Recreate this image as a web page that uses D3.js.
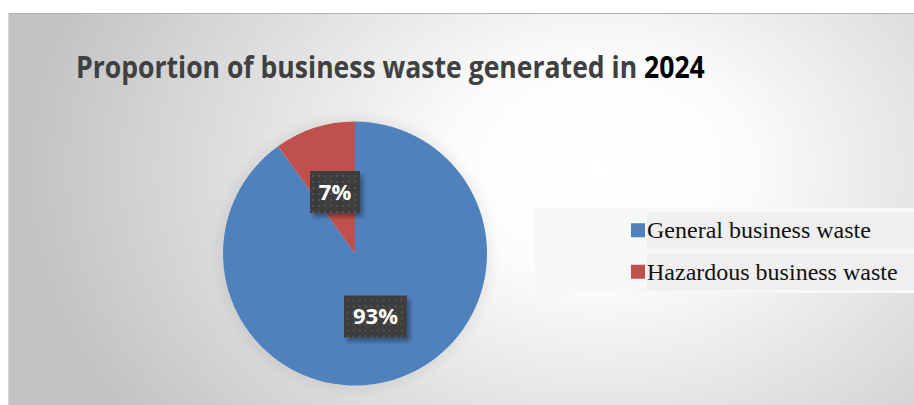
<!DOCTYPE html>
<html>
<head>
<meta charset="utf-8">
<script src="https://cdn.jsdelivr.net/npm/d3@7"></script>
<style>
  body { margin: 0; background: #fff; }
  svg { display: block; }
</style>
</head>
<body>
<div id="wrapper"></div>
<script>
// data
const categories = ['General business waste', 'Hazardous business waste']
const values = [90.1, 9.9]           // slice sizes as drawn
const labelTexts = ['93%', '7%']     // labels as printed
const colors = ['#4f81bd', '#c0504d']
const titleMain = 'Proportion of business waste generated in '
const titleYear = '2024'

function drawPie() {
    let dimensions = {
        width: 914,
        height: 405,
        box: { x: 8, y: 13 }
    }

    const svg = d3.select('#wrapper').append('svg')
        .attr('width', dimensions.width)
        .attr('height', dimensions.height)

    const defs = svg.append('defs')
    const grad = defs.append('radialGradient')
        .attr('id', 'bg')
        .attr('gradientUnits', 'userSpaceOnUse')
        .attr('cx', 600).attr('cy', 170).attr('r', 580)
        .attr('gradientTransform', 'translate(600,170) scale(1,0.75) translate(-600,-170)')
    grad.append('stop').attr('offset', '0%').attr('stop-color', '#ffffff')
    grad.append('stop').attr('offset', '25%').attr('stop-color', '#fcfcfc')
    grad.append('stop').attr('offset', '100%').attr('stop-color', '#c2c2c2')

    const glow = defs.append('filter').attr('id', 'glow')
        .attr('x', '-20%').attr('y', '-20%').attr('width', '140%').attr('height', '140%')
    glow.append('feGaussianBlur').attr('in', 'SourceAlpha').attr('stdDeviation', 9)
    glow.append('feComponentTransfer').append('feFuncA').attr('type', 'linear').attr('slope', 0.12)
    const gm = glow.append('feMerge')
    gm.append('feMergeNode')
    gm.append('feMergeNode').attr('in', 'SourceGraphic')

    const pat = defs.append('pattern').attr('id', 'dots')
        .attr('width', 6).attr('height', 6).attr('patternUnits', 'userSpaceOnUse')
    pat.append('rect').attr('width', 6).attr('height', 6).attr('fill', '#3c3c3c')
    pat.append('rect').attr('x', 1).attr('y', 1).attr('width', 2).attr('height', 2).attr('fill', '#535353')

    const shadow = defs.append('filter').attr('id', 'lblshadow')
        .attr('x', '-30%').attr('y', '-30%').attr('width', '160%').attr('height', '160%')
    shadow.append('feGaussianBlur').attr('in', 'SourceAlpha').attr('stdDeviation', 2)
    shadow.append('feOffset').attr('dx', 3).attr('dy', 4)
    shadow.append('feComponentTransfer').append('feFuncA').attr('type', 'linear').attr('slope', 0.35)
    const sm = shadow.append('feMerge')
    sm.append('feMergeNode')
    sm.append('feMergeNode').attr('in', 'SourceGraphic')

    // chart area
    svg.append('rect')
        .attr('x', dimensions.box.x).attr('y', dimensions.box.y)
        .attr('width', dimensions.width - dimensions.box.x)
        .attr('height', dimensions.height - dimensions.box.y)
        .attr('fill', 'url(#bg)')
    svg.append('line')
        .attr('x1', dimensions.box.x).attr('x2', dimensions.width)
        .attr('y1', dimensions.box.y + 0.5).attr('y2', dimensions.box.y + 0.5)
        .attr('stroke', '#b4b4b4')
    svg.append('line')
        .attr('x1', dimensions.box.x + 0.5).attr('x2', dimensions.box.x + 0.5)
        .attr('y1', dimensions.box.y).attr('y2', dimensions.height)
        .attr('stroke', '#d8d8d8')

    // title: one text, squeezed horizontally to the original's width
    const title = svg.append('text')
        .attr('font-family', 'Open Sans, sans-serif')
        .attr('font-weight', 700)
        .attr('font-size', 31)
        .attr('xml:space', 'preserve')
        .style('white-space', 'pre')
    title.append('tspan').attr('fill', '#404040').text(titleMain)
    title.append('tspan').attr('fill', '#000').text(titleYear)
    const natural = title.node().getComputedTextLength()
    title.attr('transform', `translate(76,78) scale(${629 / natural},1)`)

    // pie
    const cx = 355, cy = 253.5, radius = 132
    const pie = d3.pie().sort(null).startAngle(0).endAngle(2 * Math.PI)
    const arcs = pie(values)
    const arc = d3.arc().innerRadius(0).outerRadius(radius)

    const g = svg.append('g').attr('transform', `translate(${cx},${cy})`)
    g.append('circle').attr('r', radius).attr('fill', '#ddd').attr('filter', 'url(#glow)').attr('opacity', 0.9)
    g.selectAll('path')
        .data(arcs)
        .enter()
        .append('path')
        .attr('d', arc)
        .attr('fill', (d, i) => colors[i])

    // data labels (placed like the original)
    const labelPos = [[20.5, 63], [-20, -61.5]]
    const lg = g.selectAll('.lbl')
        .data(arcs)
        .enter()
        .append('g')
        .attr('class', 'lbl')
        .attr('transform', (d, i) => `translate(${labelPos[i][0]},${labelPos[i][1]})`)
    lg.each(function(d, i) {
        const sel = d3.select(this)
        const w = labelTexts[i].length > 2 ? 63 : 50
        sel.append('rect')
            .attr('x', -w / 2).attr('y', -21).attr('width', w).attr('height', 42)
            .attr('fill', 'url(#dots)')
            .attr('filter', 'url(#lblshadow)')
        sel.append('text')
            .attr('text-anchor', 'middle')
            .attr('dy', '0.36em')
            .attr('font-family', 'Open Sans, sans-serif')
            .attr('font-weight', 700)
            .attr('font-size', 22)
            .attr('fill', '#fff')
            .text(labelTexts[i])
    })

    // legend
    svg.append('rect')
        .attr('x', 535).attr('y', 208).attr('width', dimensions.width - 535).attr('height', 85)
        .attr('fill', '#f7f7f7')
    const legendY = d3.scaleBand().domain(categories).range([212, 290]).paddingInner(0.12)
    const leg = svg.selectAll('.leg')
        .data(categories)
        .enter()
        .append('g')
        .attr('class', 'leg')
        .attr('transform', d => `translate(0,${legendY(d)})`)
    leg.append('rect')
        .attr('x', 647).attr('y', 0).attr('width', dimensions.width - 647).attr('height', legendY.bandwidth())
        .attr('fill', '#efefef')
    leg.append('rect')
        .attr('x', 631).attr('y', legendY.bandwidth() / 2 - 7).attr('width', 14).attr('height', 14)
        .attr('fill', (d, i) => colors[i])
    leg.append('text')
        .attr('x', 647).attr('y', legendY.bandwidth() / 2 + 8)
        .attr('font-family', 'Liberation Serif, Times New Roman, serif')
        .attr('font-size', 24)
        .attr('fill', '#111')
        .text(d => d)
}

drawPie()
</script>
</body>
</html>
